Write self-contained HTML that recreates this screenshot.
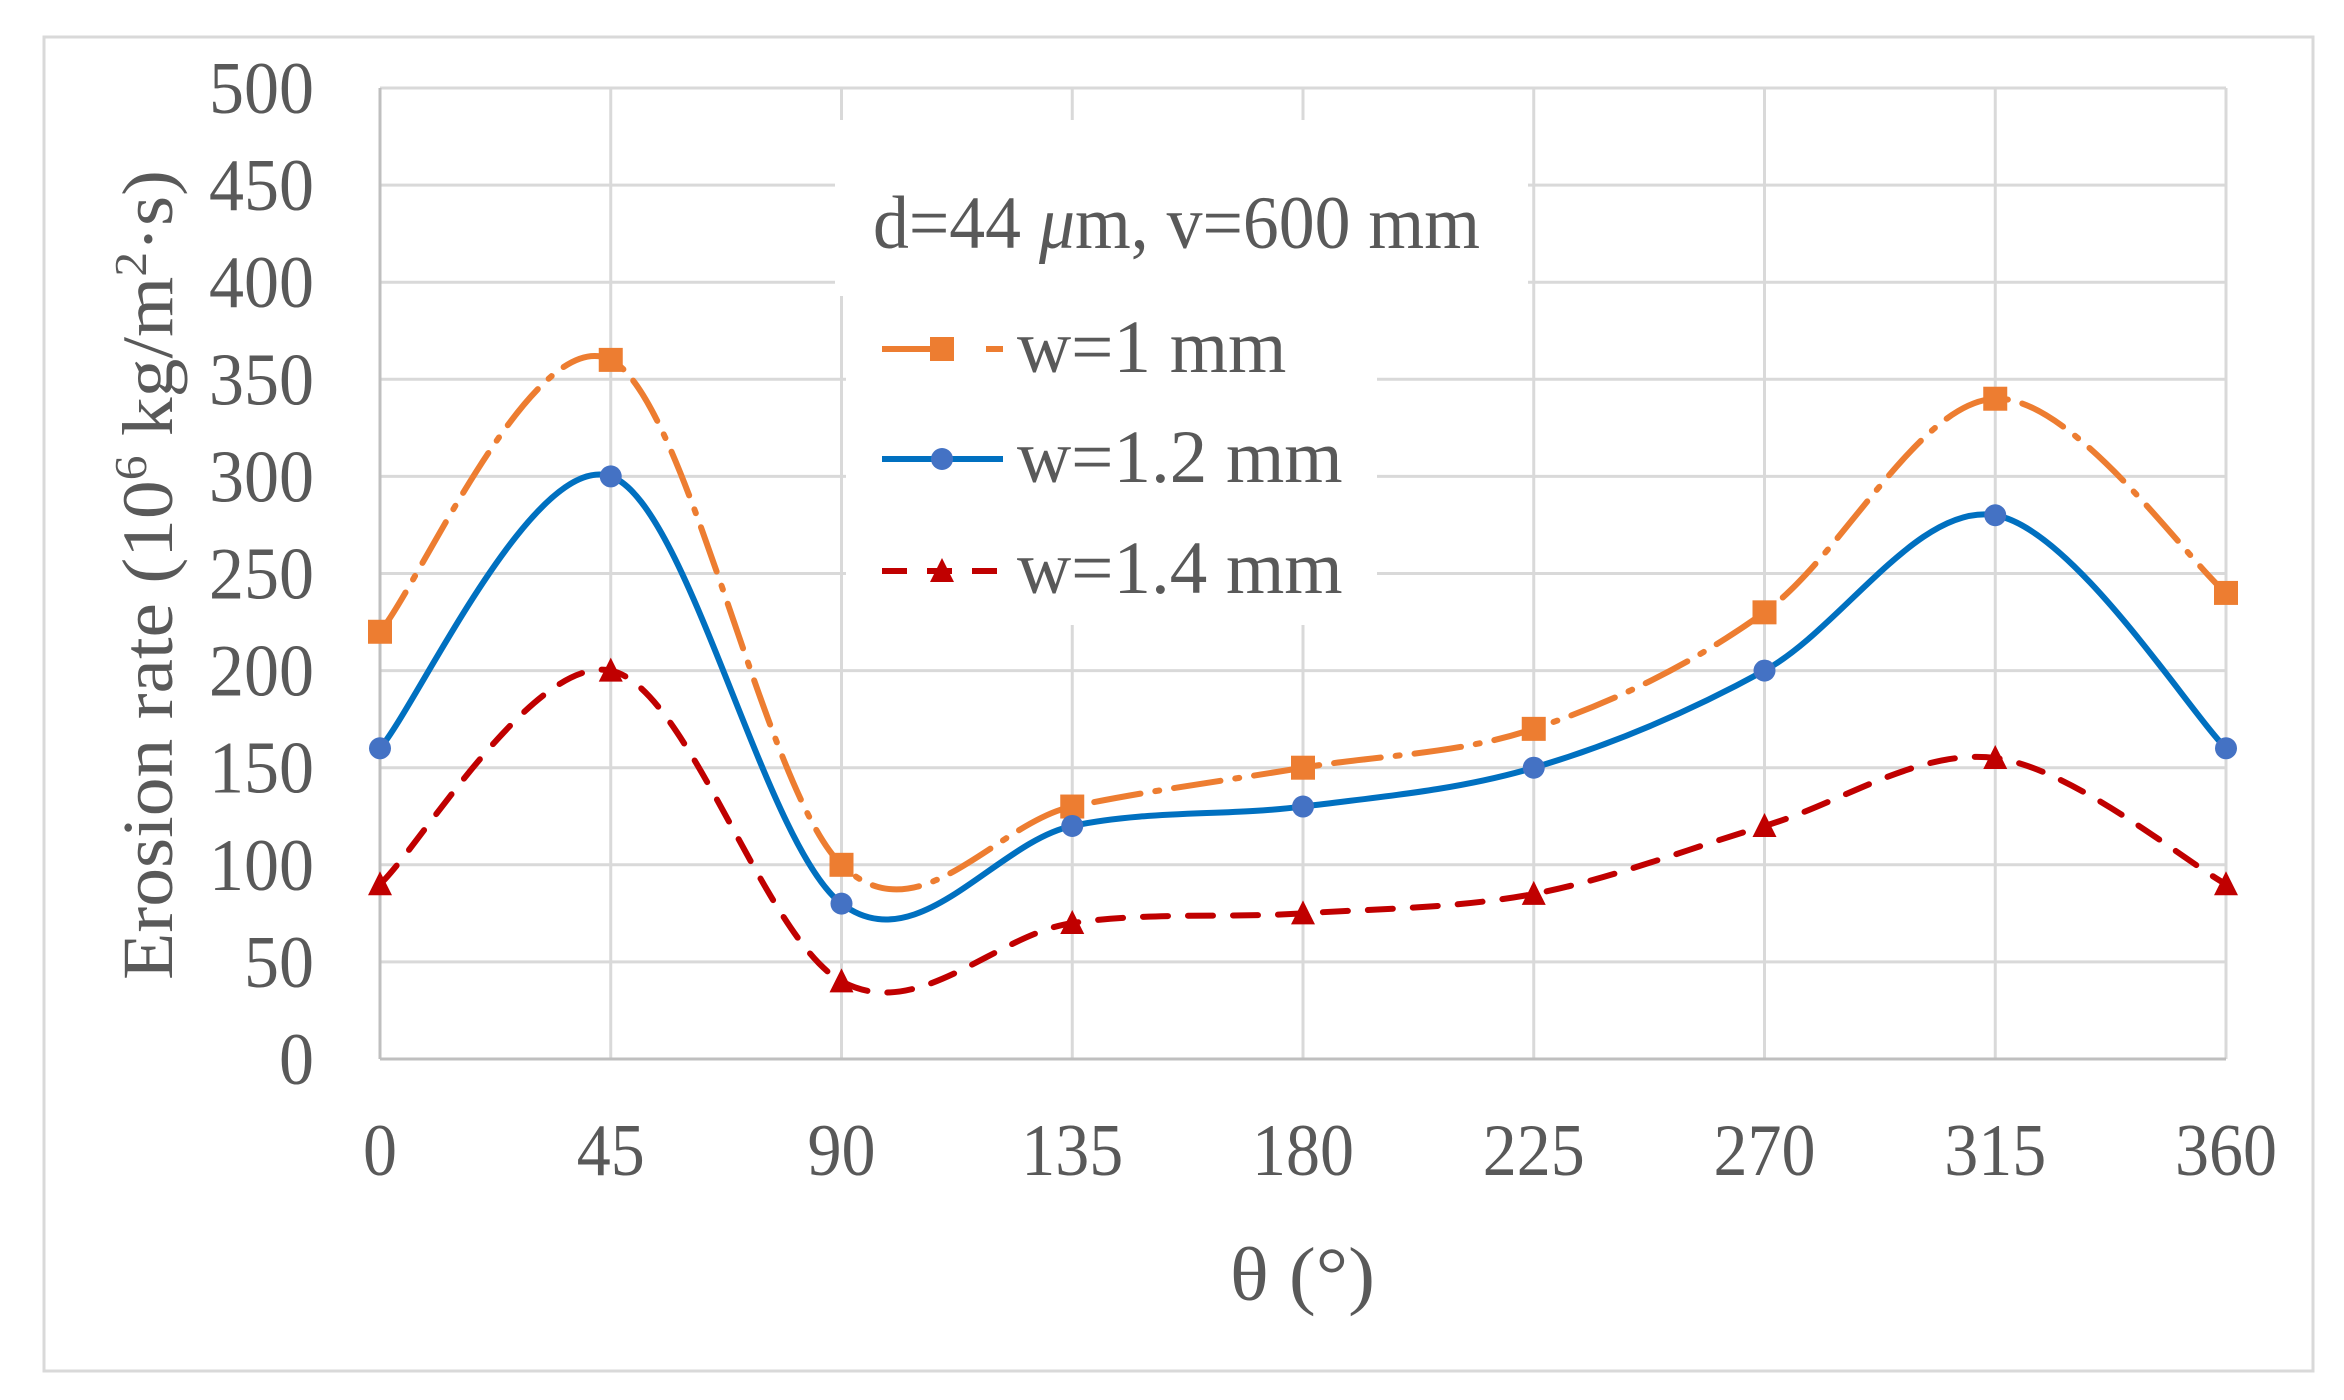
<!DOCTYPE html>
<html><head><meta charset="utf-8"><style>
html,body{margin:0;padding:0;background:#fff;}
svg{display:block;}
text{font-family:"Liberation Serif",serif;fill:#595959;}
</style></head><body>
<svg id="s" width="2344" height="1400" viewBox="0 0 2344 1400" xmlns="http://www.w3.org/2000/svg">
<rect x="0" y="0" width="2344" height="1400" fill="#fff"/>
<rect x="44" y="37" width="2269" height="1334" fill="none" stroke="#d9d9d9" stroke-width="3"/>
<g id="grid" stroke="#d9d9d9" stroke-width="3"></g>
<rect x="835" y="120" width="693" height="176" fill="#fff"/>
<rect x="846" y="296" width="531" height="329" fill="#fff"/>
<g id="lab" font-size="74"></g>
<text x="873" y="248" font-size="75" textLength="607" lengthAdjust="spacingAndGlyphs">d=44 <tspan font-style="italic">μ</tspan>m, v=600 mm</text>
<line x1="882" y1="349" x2="940" y2="349" stroke="#ED7D31" stroke-width="6"/>
<line x1="986" y1="349" x2="1003" y2="349" stroke="#ED7D31" stroke-width="6"/>
<rect x="930" y="337" width="24" height="24" fill="#ED7D31"/>
<line x1="882" y1="459" x2="1003" y2="459" stroke="#0070C0" stroke-width="6"/>
<circle cx="942" cy="459" r="11" fill="#4472C4"/>
<line x1="882" y1="571" x2="1003" y2="571" stroke="#C00000" stroke-width="6" stroke-dasharray="25,20"/>
<path d="M942,558 L954,582 L930,582 Z" fill="#C00000"/>
<text x="1017" y="372" font-size="75">w=1 mm</text>
<text x="1017" y="482" font-size="75">w=1.2 mm</text>
<text x="1017" y="593" font-size="75">w=1.4 mm</text>
<text x="1230" y="1300" font-size="76" textLength="145" lengthAdjust="spacingAndGlyphs">θ (°)</text>
<text transform="translate(172,980) rotate(-90)" font-size="72" textLength="810" lengthAdjust="spacingAndGlyphs">Erosion rate (10<tspan font-size="46" dy="-26">6</tspan><tspan dy="26"> kg/m</tspan><tspan font-size="46" dy="-26">2</tspan><tspan dy="26">·s)</tspan></text>
<g id="series"></g>
</svg>
<script>
var NS="http://www.w3.org/2000/svg";
function X(t){return 380+t/45*230.75;}
function Y(v){return 1059-v*(971/500);}
function el(tag,a,p){var e=document.createElementNS(NS,tag);for(var k in a)e.setAttribute(k,a[k]);p.appendChild(e);return e;}
var g=document.getElementById('grid');
for(var i=1;i<=10;i++){var y=Y(i*50);el('line',{x1:380,y1:y,x2:2226,y2:y},g);}
for(var j=1;j<=8;j++){var x=X(j*45);el('line',{x1:x,y1:88,x2:x,y2:1059},g);}
el('line',{x1:380,y1:88,x2:380,y2:1059,stroke:'#bfbfbf'},g);
el('line',{x1:380,y1:1059,x2:2226,y2:1059,stroke:'#bfbfbf'},g);
var lab=document.getElementById('lab');
for(var i=0;i<=10;i++){var t=el('text',{x:314,y:Y(i*50)+25,'text-anchor':'end',textLength:String(i*50).length*35,lengthAdjust:'spacingAndGlyphs'},lab);t.textContent=i*50;}
for(var j=0;j<=8;j++){var s=String(j*45);var t=el('text',{x:X(j*45),y:1175,'text-anchor':'middle',textLength:s.length*34,lengthAdjust:'spacingAndGlyphs'},lab);t.textContent=s;}
var data=[
{v:[220,360,100,130,150,170,230,340,240],c:'#ED7D31',d:'47,15,4,15',m:'sq'},
{v:[160,300,80,120,130,150,200,280,160],c:'#0070C0',d:'',m:'ci'},
{v:[90,200,40,70,75,85,120,155,90],c:'#C00000',d:'25,20',m:'tr'}];
var sg=document.getElementById('series');
data.forEach(function(s){
 var P=s.v.map(function(v,i){return [X(i*45),Y(v)];});
 var d='M'+P[0][0]+','+P[0][1];
 for(var i=0;i<P.length-1;i++){
  var p0=P[Math.max(i-1,0)],p1=P[i],p2=P[i+1],p3=P[Math.min(i+2,P.length-1)];
  var c1=[p1[0]+(p2[0]-p0[0])/6,p1[1]+(p2[1]-p0[1])/6];
  var c2=[p2[0]-(p3[0]-p1[0])/6,p2[1]-(p3[1]-p1[1])/6];
  d+=' C'+c1+' '+c2+' '+p2;
 }
 var a={d:d,fill:'none',stroke:s.c,'stroke-width':6,'stroke-linecap':'round'};
 if(s.d)a['stroke-dasharray']=s.d;
 el('path',a,sg);
 P.forEach(function(p){
  if(s.m=='sq')el('rect',{x:p[0]-12,y:p[1]-12,width:24,height:24,fill:s.c},sg);
  else if(s.m=='ci')el('circle',{cx:p[0],cy:p[1],r:11,fill:'#4472C4'},sg);
  else el('path',{d:'M'+p[0]+','+(p[1]-13)+' L'+(p[0]+12)+','+(p[1]+11)+' L'+(p[0]-12)+','+(p[1]+11)+' Z',fill:s.c},sg);
 });
});
</script>
</body></html>
